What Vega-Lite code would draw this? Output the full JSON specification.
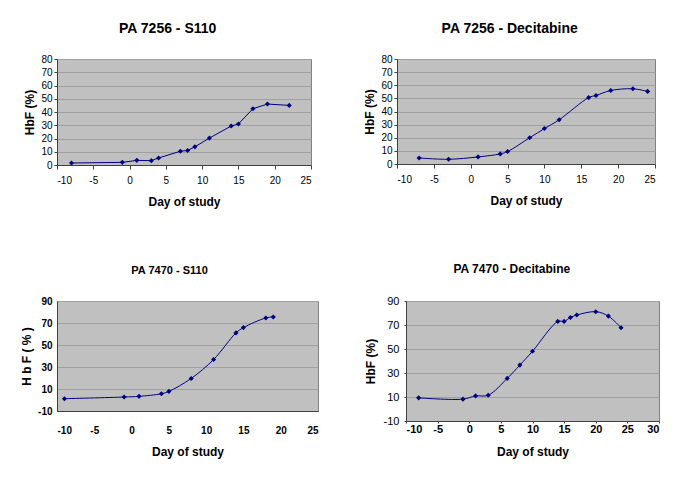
{
  "$schema": "https://vega.github.io/schema/vega-lite/v6.json",
  "background": "white",
  "padding": {"left": 20, "top": 21, "right": 5, "bottom": 5},
  "config": {
    "font": "Liberation Sans",
    "view": {"fill": "#c0c0c0", "stroke": "#808080", "strokeWidth": 1},
    "axis": {
      "grid": false,
      "domainColor": "#404040",
      "tickColor": "#404040",
      "labelColor": "#000000",
      "titleColor": "#000000",
      "labelFont": "Liberation Sans",
      "titleFont": "Liberation Sans",
      "titleFontWeight": "bold",
      "labelExpr": "replace(datum.label, '\u2212', '-')"
    },
    "axisY": {"grid": true, "gridColor": "#a0a0a0", "gridWidth": 1},
    "title": {"font": "Liberation Sans", "fontWeight": "bold", "color": "#000000", "anchor": "middle", "frame": "bounds"}
  },
  "datasets": {
    "p1": [
      {"day": -8, "hbf": 1.5}, {"day": -1, "hbf": 2}, {"day": 1, "hbf": 3.5}, {"day": 3, "hbf": 3.3},
      {"day": 4, "hbf": 5.3}, {"day": 7, "hbf": 10.4}, {"day": 8, "hbf": 11}, {"day": 9, "hbf": 13.7},
      {"day": 11, "hbf": 20.3}, {"day": 14, "hbf": 29.4}, {"day": 15, "hbf": 31}, {"day": 17, "hbf": 42.5},
      {"day": 19, "hbf": 46}, {"day": 22, "hbf": 45}
    ],
    "p2": [
      {"day": -7, "hbf": 4.6}, {"day": -3, "hbf": 3.6}, {"day": 1, "hbf": 5.4}, {"day": 4, "hbf": 7.7},
      {"day": 5, "hbf": 9.5}, {"day": 8, "hbf": 20}, {"day": 10, "hbf": 27}, {"day": 12, "hbf": 33.7},
      {"day": 16, "hbf": 50.6}, {"day": 17, "hbf": 52.2}, {"day": 19, "hbf": 56}, {"day": 22, "hbf": 57.3},
      {"day": 24, "hbf": 55.3}
    ],
    "p3": [
      {"day": -9, "hbf": 1.2}, {"day": -1, "hbf": 2.7}, {"day": 1, "hbf": 3.3}, {"day": 4, "hbf": 5.7},
      {"day": 5, "hbf": 7.8}, {"day": 8, "hbf": 19.6}, {"day": 11, "hbf": 36.8}, {"day": 14, "hbf": 61},
      {"day": 15, "hbf": 65.8}, {"day": 18, "hbf": 74.6}, {"day": 19, "hbf": 75.5}
    ],
    "p4": [
      {"day": -8, "hbf": 9.3}, {"day": -1, "hbf": 8.2}, {"day": 1, "hbf": 10.9}, {"day": 3, "hbf": 11.5},
      {"day": 6, "hbf": 25.5}, {"day": 8, "hbf": 36.6}, {"day": 10, "hbf": 48.1}, {"day": 14, "hbf": 73},
      {"day": 15, "hbf": 73}, {"day": 16, "hbf": 76.3}, {"day": 17, "hbf": 78.3}, {"day": 20, "hbf": 81.1},
      {"day": 22, "hbf": 77.4}, {"day": 24, "hbf": 67.7}
    ]
  },
  "spacing": 54,
  "vconcat": [
    {
      "spacing": 51,
      "hconcat": [
        {
          "title": {"text": "PA 7256 - S110", "fontSize": 14, "offset": 18},
          "width": 254, "height": 106,
          "data": {"name": "p1"},
          "encoding": {
            "x": {"field": "day", "type": "quantitative", "scale": {"domain": [-10, 25], "nice": false, "zero": false},
                  "axis": {"values": [-10, -5, 0, 5, 10, 15, 20, 25], "title": "Day of study", "titleFontSize": 12, "labelFontSize": 10, "tickSize": 4, "labelPadding": 6, "titlePadding": 11}},
            "y": {"field": "hbf", "type": "quantitative", "scale": {"domain": [0, 80], "nice": false},
                  "axis": {"values": [0, 10, 20, 30, 40, 50, 60, 70, 80], "title": "HbF (%)", "titleFontSize": 12, "labelFontSize": 10, "tickSize": 3, "labelPadding": 2, "titlePadding": 4}}
          },
          "layer": [
            {"mark": {"type": "line", "color": "#000080", "strokeWidth": 1, "interpolate": "linear"}},
            {"mark": {"type": "point", "shape": "diamond", "filled": true, "size": 26, "color": "#000080", "opacity": 1}}
          ]
        },
        {
          "title": {"text": "PA 7256 - Decitabine", "fontSize": 14, "offset": 18},
          "width": 258, "height": 105,
          "data": {"name": "p2"},
          "encoding": {
            "x": {"field": "day", "type": "quantitative", "scale": {"domain": [-10, 25], "nice": false, "zero": false},
                  "axis": {"values": [-10, -5, 0, 5, 10, 15, 20, 25], "title": "Day of study", "titleFontSize": 12, "labelFontSize": 10, "tickSize": 4, "labelPadding": 6, "titlePadding": 11}},
            "y": {"field": "hbf", "type": "quantitative", "scale": {"domain": [0, 80], "nice": false},
                  "axis": {"values": [0, 10, 20, 30, 40, 50, 60, 70, 80], "title": "HbF (%)", "titleFontSize": 12, "labelFontSize": 10, "tickSize": 3, "labelPadding": 2, "titlePadding": 4}}
          },
          "layer": [
            {"mark": {"type": "line", "color": "#000080", "strokeWidth": 1, "interpolate": "catmull-rom"}},
            {"mark": {"type": "point", "shape": "diamond", "filled": true, "size": 26, "color": "#000080", "opacity": 1}}
          ]
        }
      ]
    },
    {
      "spacing": 44,
      "hconcat": [
        {
          "title": {"text": "PA 7470 - S110", "fontSize": 11, "offset": 20},
          "width": 261, "height": 110,
          "data": {"name": "p3"},
          "encoding": {
            "x": {"field": "day", "type": "quantitative", "scale": {"domain": [-10, 25], "nice": false, "zero": false},
                  "axis": {"values": [-10, -5, 0, 5, 10, 15, 20, 25], "title": "Day of study", "titleFontSize": 12, "labelFontSize": 10, "labelFontWeight": "bold", "tickSize": 0, "labelPadding": 14, "titlePadding": 11}},
            "y": {"field": "hbf", "type": "quantitative", "scale": {"domain": [-10, 90], "nice": false, "zero": false},
                  "axis": {"values": [-10, 10, 30, 50, 70, 90], "title": "H b F  ( % )", "titleFontSize": 12, "labelFontSize": 10, "labelFontWeight": "bold", "tickSize": 0, "labelPadding": 5, "titlePadding": 4}}
          },
          "layer": [
            {"mark": {"type": "line", "color": "#000080", "strokeWidth": 1, "interpolate": "catmull-rom"}},
            {"mark": {"type": "point", "shape": "diamond", "filled": true, "size": 26, "color": "#000080", "opacity": 1}}
          ]
        },
        {
          "title": {"text": "PA 7470 - Decitabine", "fontSize": 12, "offset": 19},
          "width": 253, "height": 120,
          "data": {"name": "p4"},
          "encoding": {
            "x": {"field": "day", "type": "quantitative", "scale": {"domain": [-10, 30], "nice": false, "zero": false},
                  "axis": {"values": [-10, -5, 0, 5, 10, 15, 20, 25, 30], "title": "Day of study", "titleFontSize": 12, "labelFontSize": 11, "labelFontWeight": "bold", "tickSize": 2, "labelPadding": 0, "titlePadding": 12}},
            "y": {"field": "hbf", "type": "quantitative", "scale": {"domain": [-10, 90], "nice": false, "zero": false},
                  "axis": {"values": [-10, 10, 30, 50, 70, 90], "title": "HbF (%)", "titleFontSize": 12, "labelFontSize": 11, "tickSize": 2, "labelPadding": 5, "titlePadding": 6}}
          },
          "layer": [
            {"mark": {"type": "line", "color": "#000080", "strokeWidth": 1, "interpolate": "catmull-rom"}},
            {"mark": {"type": "point", "shape": "diamond", "filled": true, "size": 26, "color": "#000080", "opacity": 1}}
          ]
        }
      ]
    }
  ]
}
